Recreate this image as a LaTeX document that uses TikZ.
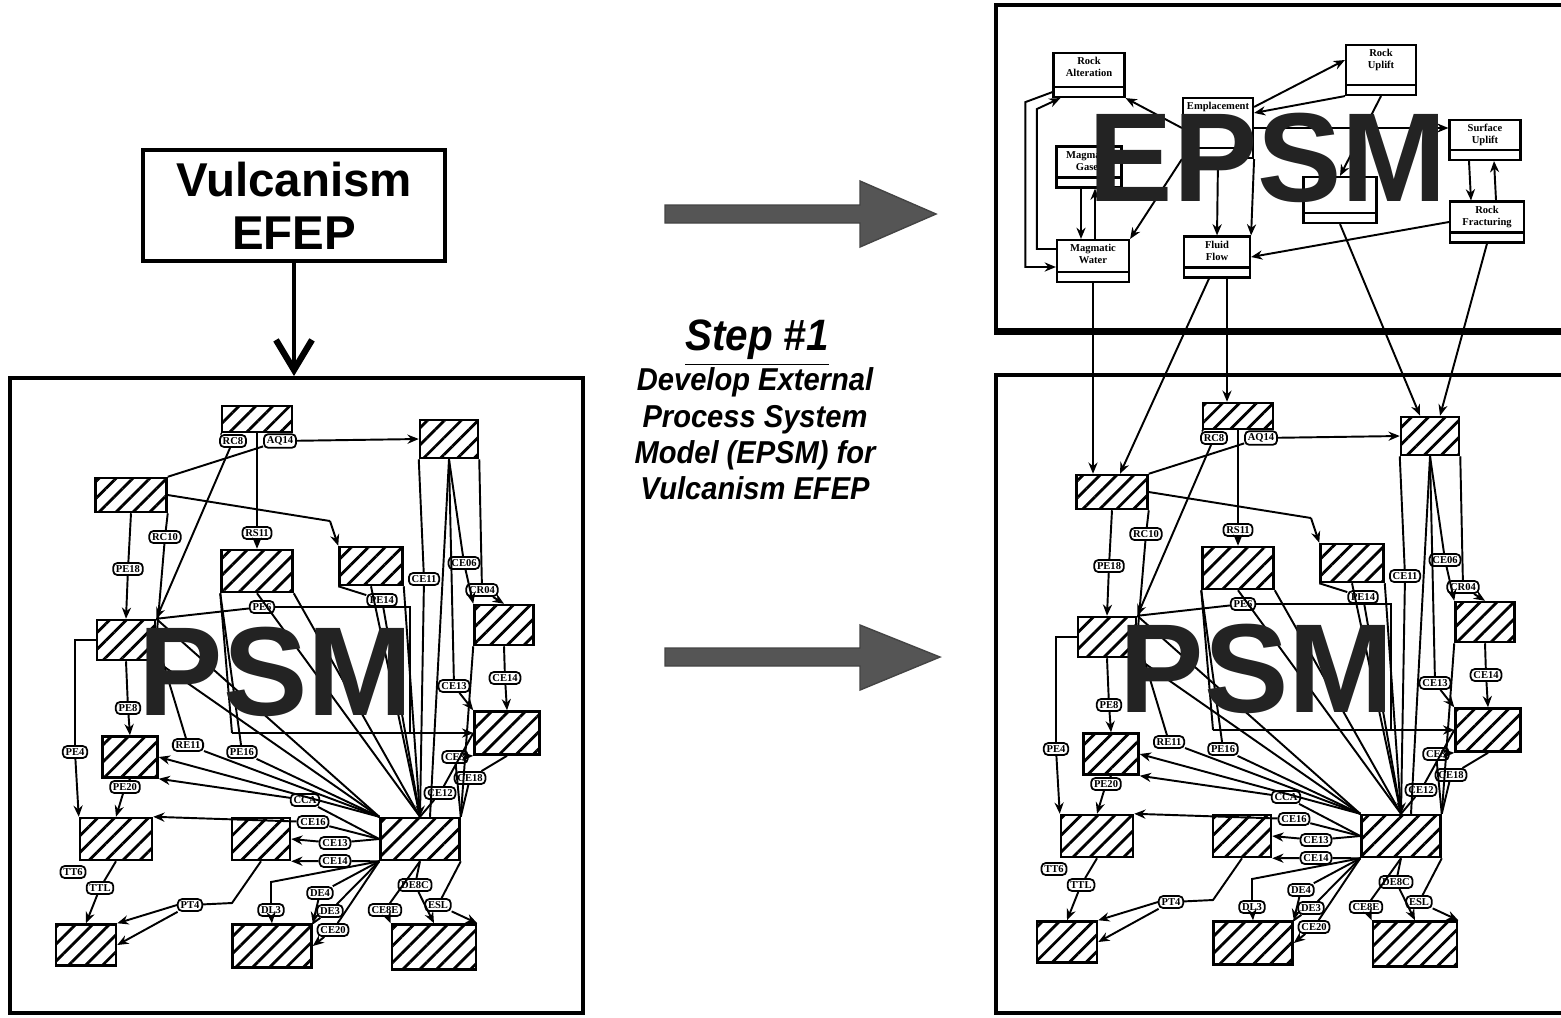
\documentclass[tikz,border=0pt]{standalone}
\usepackage{fontspec}
\setmainfont{Liberation Sans}
\newfontfamily\tagfont{Liberation Serif}
\newfontfamily\stepfont[FakeStretch=0.92]{Liberation Sans}
\usetikzlibrary{positioning,arrows.meta,calc,patterns.meta}
\definecolor{bigtxt}{RGB}{35,35,35}
\definecolor{fatgray}{RGB}{85,85,85}
\newcommand{\mtext}[3]{\parbox[c][#2][t]{#1}{\centering\rule{0pt}{3.3pt}#3}}

\tikzset{
  psm/.pic={
    % process boxes
    \node[hatchbox,minimum width=.70cm,minimum height=.26cm] (-a) at (257,419) {};
    \node[hatchbox,minimum width=.58cm,minimum height=.38cm] (-b) at (449,439) {};
    \node[hatchbox,minimum width=.71cm,minimum height=.34cm] (-c) at (131,495) {};
    \node[hatchbox,minimum width=.71cm,minimum height=.42cm] (-d) at (257,571) {};
    \node[hatchbox,minimum width=.63cm,minimum height=.38cm] (-e) at (371,566) {};
    \node[hatchbox,minimum width=.59cm,minimum height=.40cm] (-f) at (504,625) {};
    \node[hatchbox,minimum width=.58cm,minimum height=.40cm] (-g) at (126,640) {};
    \node[hatchbox,minimum width=.65cm,minimum height=.43cm] (-h) at (507,733) {};
    \node[hatchbox,minimum width=.55cm,minimum height=.41cm] (-i) at (130,757) {};
    \node[hatchbox,minimum width=.72cm,minimum height=.42cm] (-j) at (116,839) {};
    \node[hatchbox,minimum width=.58cm,minimum height=.42cm] (-k) at (261,839) {};
    \node[hatchbox,minimum width=.79cm,minimum height=.42cm] (-l) at (420,839) {};
    \node[hatchbox,minimum width=.60cm,minimum height=.41cm] (-m) at (86,945) {};
    \node[hatchbox,minimum width=.79cm,minimum height=.43cm] (-n) at (272,946) {};
    \node[hatchbox,minimum width=.84cm,minimum height=.45cm] (-o) at (434,947) {};
    % tags
    \node[lbltag] (-t1) at (233,441) {RC8};
    \node[lbltag] (-t2) at (280,441) {AQ14};
    \node[lbltag] (-t3) at (257,533) {RS11};
    \node[lbltag] (-t4) at (165,537) {RC10};
    \node[lbltag] (-t5) at (128,569) {PE18};
    \node[lbltag] (-t6) at (464,563) {CE06};
    \node[lbltag] (-t7) at (482,590) {CR04};
    \node[lbltag] (-t8) at (424,579) {CE11};
    \node[lbltag] (-t9) at (382,600) {PE14};
    \node[lbltag] (-t10) at (262,607) {PE6};
    \node[lbltag] (-t11) at (454,686) {CE13};
    \node[lbltag] (-t12) at (505,678) {CE14};
    \node[lbltag] (-t13) at (128,708) {PE8};
    \node[lbltag] (-t14) at (75,752) {PE4};
    \node[lbltag] (-t15) at (188,745) {RE11};
    \node[lbltag] (-t16) at (242,752) {PE16};
    \node[lbltag] (-t17) at (455,757) {CE3};
    \node[lbltag] (-t18) at (470,778) {CE18};
    \node[lbltag] (-t19) at (440,793) {CE12};
    \node[lbltag] (-t20) at (125,787) {PE20};
    \node[lbltag] (-t21) at (305,800) {CCA};
    \node[lbltag] (-t22) at (313,822) {CE16};
    \node[lbltag] (-t23) at (335,843) {CE13};
    \node[lbltag] (-t24) at (335,861) {CE14};
    \node[lbltag] (-t25) at (73,872) {TT6};
    \node[lbltag] (-t26) at (100,888) {TTL};
    \node[lbltag] (-t27) at (190,905) {PT4};
    \node[lbltag] (-t28) at (271,910) {DL3};
    \node[lbltag] (-t29) at (320,893) {DE4};
    \node[lbltag] (-t30) at (330,911) {DE3};
    \node[lbltag] (-t31) at (333,930) {CE20};
    \node[lbltag] (-t32) at (385,910) {CE8E};
    \node[lbltag] (-t33) at (415,885) {DE8C};
    \node[lbltag] (-t34) at (438,905) {ESL};
    \coordinate (-p1) at (330,521);
    \coordinate (-p3) at (410,733);
    \coordinate (-p4) at (232,733);
    \coordinate (-p6) at (271,882);
    \coordinate (-p7) at (232,903);
    % upper links
    \draw (-a.south) -- (-t3); \draw[->] (-t3) -- (-d.north);
    \draw (-a.south west) -- (-t1); \draw[->] (-t1) -- (-g.north east);
    \draw (-c.north east) -- (-t2); \draw[->] (-t2) -- (-b.west);
    \draw (-c.east) -- (-p1); \draw[->] (-p1) -- (-e.north west);
    \draw (-c.south) -- (-t5); \draw[->] (-t5) -- (-g.north);
    \draw (-c.south east) -- (-t4); \draw[->] (-t4) -- (-g.east);
    \draw (-b.south west) -- (-t8); \draw[->] (-t8) -- (-l.north);
    \draw (-b.south) -- ([xshift=0.1cm]-l.north);
    \draw (-b.south) -- (-t6); \draw[->] (-t6) -- (-f.north west);
    \draw (-b.south east) -- (-t7); \draw[->] (-t7) -- (-f.north);
    \draw (-b.south) -- (-t11); \draw[->] (-t11) -- (-h.north west);
    \draw (-f.south) -- (-t12); \draw[->] (-t12) -- (-h.north);
    \draw (-g.north east) -- (-t10) -| (-p3);
    \draw (-d.south west) -- (-p4); \draw[->] (-p4) -- (-h.west);
    % fan out of the hub
    \draw (-l.north west) -- (-g.south east);
    \draw (-l.north west) -- (-g.north east);
    \draw (-l.north west) -- (-t15); \draw (-t15) -- (-g.east);
    \draw (-l.north west) -- (-t16); \draw (-t16) -- (-d.south west);
    \draw (-l.north) -- (-d.south);
    \draw (-l.north) -- (-d.south east);
    \draw (-l.north) -- (-t9); \draw (-t9) -- (-e.south west);
    \draw (-l.north) -- (-e.south);
    \draw (-l.north) -- (-e.south east);
    \draw[->] (-l.north west) -- (-i.east);
    \draw (-l.west) -- (-t21); \draw[->] (-t21) -- (-i.south east);
    \draw (-l.west) -- (-t22); \draw[->] (-t22) -- (-j.north east);
    \draw (-l.west) -- (-t23); \draw[->] (-t23) -- (-k.east);
    \draw (-l.south west) -- (-t24); \draw[->] (-t24) -- (-k.south east);
    \draw (-l.north east) -- (-t17); \draw[->] (-t17) -- (-h.south west);
    \draw (-l.north east) -- (-t18); \draw (-t18) -- (-h.south);
    \draw (-l.north) -- (-t19); \draw (-t19) -- (-h.west);
    \draw (-l.north east) -- (-f.south west);
    % lower links
    \draw (-l.south west) -- (-p6) -- (-t28); \draw[->] (-t28) -- (-n.north);
    \draw (-l.south west) -- (-t29); \draw[->] (-t29) -- (-n.north east);
    \draw (-l.south west) -- (-t30); \draw (-t30) -- (-n.north east);
    \draw (-l.south west) -- (-t31); \draw[->] (-t31) -- (-n.east);
    \draw (-l.south) -- (-t32); \draw[->] (-t32) -- (-o.north west);
    \draw (-l.south) -- (-t33); \draw[->] (-t33) -- (-o.north);
    \draw (-l.south east) -- (-t34); \draw[->] (-t34) -- (-o.north east);
    \draw (-g.south) -- (-t13); \draw[->] (-t13) -- (-i.north);
    \draw (-g.west) -| (-t14); \draw[->] (-t14) -- (-j.north west);
    \draw (-i.south) -- (-t20); \draw[->] (-t20) -- (-j.north);
    \draw (-j.south) -- (-t26); \draw[->] (-t26) -- (-m.north);
    \draw (-k.south) -- (-p7) -- (-t27); \draw[->] (-t27) -- (-m.east);
    \draw[->] (-t27.west) -- (-m.north east);
    \node[bigword] (-word) at (276,672) {PSM};
  }
}

\begin{document}
\begin{tikzpicture}[x=0.01cm,y=-0.01cm,>={Stealth[length=3.2pt,width=2.6pt]},line width=0.55pt,
  panel/.style={draw,line width=1pt,inner sep=0pt},
  hatchbox/.style={draw,line width=0.7pt,inner sep=0pt,
    pattern={Lines[angle=45,distance=3.4pt,line width=0.8pt]}},
  lbltag/.style={draw,fill=white,rounded corners=1.2pt,line width=0.5pt,inner xsep=0.8pt,inner ysep=0.7pt,
    font=\tagfont\bfseries\fontsize{3}{3.2}\selectfont},
  modelbox/.style={draw,fill=white,line width=0.6pt,inner sep=0pt,
    font=\tagfont\bfseries\fontsize{3}{3.5}\selectfont,
    path picture={\draw[line width=0.6pt] ([yshift=0.10cm]path picture bounding box.south west)
      -- ([yshift=0.10cm]path picture bounding box.south east);}},
  bigword/.style={font=\bfseries\fontsize{36}{36}\selectfont,text=bigtxt,inner sep=0pt},
  fatarrow/.style={fill=fatgray,draw=fatgray!80!black,line width=0.4pt}]
  \useasboundingbox (0,0) rectangle (1561,1017);
  \clip (0,0) rectangle (1561,1017);
  % panels
  \node[panel,minimum width=5.73cm,minimum height=6.35cm] (lpanel) at (296.5,695.5) {};
  \node[panel,minimum width=5.80cm,minimum height=3.25cm] (epanel) at (1286,167.5) {};
  \node[panel,minimum width=5.80cm,minimum height=6.38cm] (rpanel) at (1286,694) {};
  \draw[line width=1.6pt] (epanel.south west) -- (epanel.south east);
  % EFEP box
  \node[draw,line width=1.2pt,minimum width=3.02cm,minimum height=1.05cm,align=center,
        font=\bfseries\fontsize{13.5}{15}\selectfont] (efep) at (294,205.5) {Vulcanism\\EFEP};
  \draw[line width=0.9pt,-{Straight Barb[length=0.3cm,width=0.36cm,line width=1.8pt]}]
    (efep.south) -- (efep.south |- lpanel.north);
  % step text and fat arrows
  \node[font=\stepfont\bfseries\itshape\fontsize{12.5}{13}\selectfont] (stephd) at (757,343) {\underline{Step \#1}};
  \node[font=\stepfont\bfseries\itshape\fontsize{9}{10.3}\selectfont,align=center] (stepbody) at (755,434)
    {Develop External\\Process System\\Model (EPSM) for\\Vulcanism EFEP};
  \draw[fatarrow] (665,205) -- (860,205) -- (860,181) -- (936,214) -- (860,247) -- (860,223) -- (665,223) -- cycle;
  \draw[fatarrow] (665,648) -- (860,648) -- (860,625) -- (940,657) -- (860,690) -- (860,666) -- (665,666) -- cycle;
  % EPSM boxes
  \node[modelbox] (ralt) at (1089,75) {\mtext{0.71cm}{0.44cm}{Rock\\Alteration}};
  \node[modelbox] (rupl) at (1381,70) {\mtext{0.70cm}{0.50cm}{Rock\\Uplift}};
  \node[modelbox] (empl) at (1218,128) {\mtext{0.70cm}{0.60cm}{Emplacement}};
  \node[modelbox] (mgas) at (1089,167) {\mtext{0.65cm}{0.41cm}{Magmatic\\Gases}};
  \node[modelbox] (mwat) at (1093,261) {\mtext{0.72cm}{0.42cm}{Magmatic\\Water}};
  \node[modelbox] (fflo) at (1217,257) {\mtext{0.66cm}{0.41cm}{Fluid\\Flow}};
  \node[modelbox] (supl) at (1485,140) {\mtext{0.71cm}{0.40cm}{Surface\\Uplift}};
  \node[modelbox] (hidn) at (1340,200) {\mtext{0.73cm}{0.46cm}{}};
  \node[modelbox] (rfrc) at (1487,222) {\mtext{0.74cm}{0.41cm}{Rock\\Fracturing}};
  \draw[->] (empl.west) -- (ralt.south east);
  \draw[->] ([yshift=-0.1cm]empl.north east) -- ([yshift=0.1cm]rupl.west);
  \draw[->] (rupl.south west) -- ([yshift=-0.16cm]empl.north east);
  \draw[->] (empl.east) -- (empl.east -| supl.west);
  \draw[->] (empl.south) -- (fflo.north);
  \draw[->] (empl.south west) -- (mwat.north east);
  \draw[->] (empl.south east) -- (fflo.north east);
  \draw[->] (rfrc.west) -- (fflo.east);
  \draw[->] ([xshift=-0.16cm]supl.south) -- ([xshift=-0.16cm]rfrc.north);
  \draw[->] ([xshift=0.09cm]rfrc.north) -- ([xshift=0.09cm]supl.south);
  \draw[->] ([xshift=-0.08cm]mgas.south) -- ([xshift=-0.12cm]mwat.north);
  \draw[->] ([xshift=0.02cm]mwat.north) -- ([xshift=0.06cm]mgas.south);
  \draw[->] (rupl.south) -- (hidn.north);
  \draw[->] ([yshift=0.06cm]ralt.south west) -- ++(-27,10) |- ([yshift=-0.06cm]mwat.west);
  \draw[->] ([yshift=0.12cm]mwat.west) -- ++(-19,0) -- ++(0,-140) -- ([xshift=0.08cm]ralt.south west);
  \node[bigword] (epsmword) at (1268,158) {EPSM};
  % process system models
  \pic (L) at (0,0) {psm};
  \pic (R) at (981,-3) {psm};
  % EPSM feeds the right PSM
  \draw[->] (mwat.south) -- (mwat.south |- R-c.north);
  \draw[->] ([xshift=-0.08cm]fflo.south) -- ([xshift=0.08cm]R-c.north);
  \draw[->] ([xshift=0.1cm]fflo.south) -- ([xshift=-0.11cm]R-a.north);
  \draw[->] (hidn.south) -- ([xshift=-0.1cm]R-b.north);
  \draw[->] (rfrc.south) -- ([xshift=0.1cm]R-b.north);
\end{tikzpicture}
\end{document}
